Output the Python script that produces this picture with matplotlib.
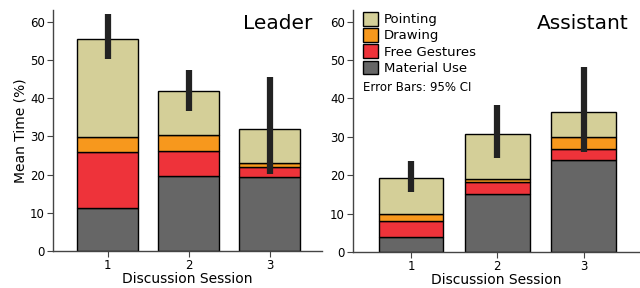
import matplotlib
matplotlib.use("Agg")
import matplotlib.pyplot as plt
import numpy as np
from matplotlib.patches import Patch

sessions = ["1", "2", "3"]
categories = ["Material Use", "Free Gestures", "Drawing", "Pointing"]
colors = ["#666666", "#ee333a", "#f7981d", "#d4cf98"]

# cumulative tops, converted to segment heights below
leader_tops = {
    "Material Use": [11.2, 19.7, 19.4],
    "Free Gestures": [26.0, 26.3, 22.0],
    "Drawing": [29.7, 30.3, 23.0],
    "Pointing": [55.5, 41.8, 31.8],
}
leader_ci_low = [50.1, 36.7, 20.1]
leader_ci_high = [61.9, 47.4, 45.6]

assistant_tops = {
    "Material Use": [3.8, 15.0, 24.0],
    "Free Gestures": [8.1, 18.1, 26.9],
    "Drawing": [9.9, 19.1, 30.0],
    "Pointing": [19.2, 30.7, 36.4],
}
assistant_ci_low = [15.7, 24.4, 26.1]
assistant_ci_high = [23.7, 38.4, 48.2]


def draw_panel(ax, tops, ci_low, ci_high, title):
    x = np.arange(1, len(sessions) + 1)
    bottom = np.zeros(len(sessions))
    for cat, col in zip(categories, colors):
        top = np.array(tops[cat])
        ax.bar(x, top - bottom, bottom=bottom, width=0.75, color=col,
               edgecolor="black", linewidth=1.0, zorder=2)
        bottom = top
    ax.vlines(x, ci_low, ci_high, color="#222222", linewidth=4.5, zorder=3)
    ax.set_xlim(0.33, 3.64)
    ax.set_ylim(0, 63)
    ax.set_xticks(x)
    ax.set_xticklabels(sessions)
    ax.set_yticks(range(0, 61, 10))
    ax.set_xlabel("Discussion Session", fontsize=10, labelpad=0)
    ax.text(0.965, 0.985, title, transform=ax.transAxes, ha="right", va="top",
            fontsize=14.5)
    for s in ("top", "right"):
        ax.spines[s].set_visible(False)
    for s in ("left", "bottom"):
        ax.spines[s].set_color("#444444")
        ax.spines[s].set_linewidth(1.0)
    ax.tick_params(labelsize=8.5, length=4, color="#444444", pad=2)


plt.rcParams["font.family"] = "DejaVu Sans"
fig = plt.figure(figsize=(6.4, 2.88), dpi=100)
ax1 = fig.add_axes([0.083, 0.128, 0.420, 0.837])
ax2 = fig.add_axes([0.552, 0.125, 0.446, 0.840])

draw_panel(ax1, leader_tops, leader_ci_low, leader_ci_high, "Leader")
draw_panel(ax2, assistant_tops, assistant_ci_low, assistant_ci_high, "Assistant")
ax1.set_ylabel("Mean Time (%)", fontsize=10, labelpad=2)

handles = [Patch(facecolor=c, edgecolor="black", label=n)
           for n, c in zip(categories[::-1], colors[::-1])]
ax2.legend(handles=handles, loc="upper left", bbox_to_anchor=(0.0, 1.03),
           frameon=False, fontsize=9.5, handlelength=1.2, handleheight=1.2,
           handletextpad=0.4, labelspacing=0.15, borderaxespad=0.3)
ax2.text(0.035, 0.68, "Error Bars: 95% CI", transform=ax2.transAxes,
         fontsize=8.5, ha="left", va="center")

fig.savefig("out.png", dpi=100)
